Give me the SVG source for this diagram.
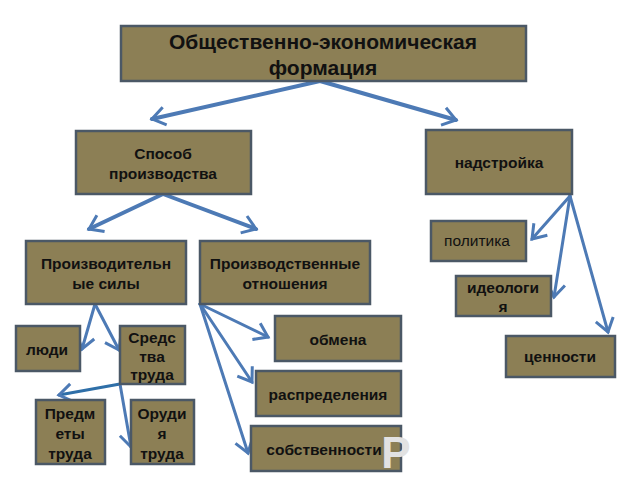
<svg xmlns="http://www.w3.org/2000/svg" width="640" height="480" viewBox="0 0 640 480">
<style>
.box{fill:#8c7f55;stroke:#4b5866;stroke-width:2.5}
text{font-family:"Liberation Sans",Arial,sans-serif;font-weight:bold;font-size:15.5px;fill:#111;text-anchor:middle}
.big{font-size:21px}
.norm{font-weight:normal}
.c{fill:none;stroke:#4d7ab5;stroke-width:4;stroke-linecap:round}
.t{stroke-width:3}
</style>
<defs>
<marker id="ah" markerUnits="userSpaceOnUse" markerWidth="22" markerHeight="22" refX="15" refY="11" orient="auto">
<path d="M2,2 L15,11 L2,20" fill="none" stroke="#4d7ab5" stroke-width="3"/>
</marker>
</defs>
<rect width="640" height="480" fill="#fff"/>
<g id="connectors">
<path class="c" d="M320,81 L152,119" marker-end="url(#ah)"/>
<path class="c" d="M320,81 L456,120" marker-end="url(#ah)"/>
<path class="c" d="M163,194 L89,229" marker-end="url(#ah)"/>
<path class="c" d="M163,194 L256,229" marker-end="url(#ah)"/>
<path class="c t" d="M570,196 L532,239" marker-end="url(#ah)"/>
<path class="c t" d="M570,196 L554,297" marker-end="url(#ah)"/>
<path class="c t" d="M570,196 L608,332" marker-end="url(#ah)"/>
<path class="c t" d="M95,304 L82,349" marker-end="url(#ah)"/>
<path class="c t" d="M95,304 L119,350" marker-end="url(#ah)"/>
<path class="c t" d="M120,384 L59,395" marker-end="url(#ah)" style="stroke:#2f6fa8"/>
<path class="c t" d="M120,384 L131,447" marker-end="url(#ah)"/>
<path class="c t" d="M200,304 L268,337" marker-end="url(#ah)"/>
<path class="c t" d="M200,304 L252,382" marker-end="url(#ah)"/>
<path class="c t" d="M200,304 L248,453" marker-end="url(#ah)"/>
</g>
<g id="n-formation"><rect class="box" x="121" y="26" width="405" height="55"/>
<text class="big" x="323" y="49">Общественно-экономическая</text><text class="big" x="323" y="75">формация</text></g>
<g id="n-sposob"><rect class="box" x="76" y="131" width="175" height="63"/>
<text x="163" y="159">Способ</text><text x="163" y="179">производства</text></g>
<g id="n-nadstroyka"><rect class="box" x="426" y="130" width="146" height="64"/>
<text x="499" y="168">надстройка</text></g>
<g id="n-sily"><rect class="box" x="26" y="241" width="160" height="63"/>
<text x="106" y="269">Производительн</text><text x="106" y="289">ые силы</text></g>
<g id="n-otnosheniya"><rect class="box" x="200" y="241" width="170" height="63"/>
<text x="285" y="269">Производственные</text><text x="285" y="289">отношения</text></g>
<g id="n-politika"><rect class="box" x="431" y="221" width="95" height="40"/>
<text class="norm" x="477" y="246">политика</text></g>
<g id="n-ideologiya"><rect class="box" x="456" y="276" width="95" height="40"/>
<text x="503" y="293">идеологи</text><text x="503" y="312">я</text></g>
<g id="n-tsennosti"><rect class="box" x="506" y="336" width="109" height="41"/>
<text x="560" y="362">ценности</text></g>
<g id="n-lyudi"><rect class="box" x="16" y="326" width="64" height="45"/>
<text x="47" y="355">люди</text></g>
<g id="n-sredstva"><rect class="box" x="120" y="326" width="65" height="58"/>
<text x="152" y="343">Средс</text><text x="152" y="362">тва</text><text x="152" y="380">труда</text></g>
<g id="n-predmety"><rect class="box" x="36" y="400" width="69" height="64"/>
<text x="70" y="419">Предм</text><text x="70" y="439">еты</text><text x="70" y="459">труда</text></g>
<g id="n-orudiya"><rect class="box" x="131" y="400" width="63" height="64"/>
<text x="162" y="419">Оруди</text><text x="162" y="439">я</text><text x="162" y="459">труда</text></g>
<g id="n-obmena"><rect class="box" x="275" y="316" width="126" height="45"/>
<text x="338" y="345">обмена</text></g>
<g id="n-raspredeleniya"><rect class="box" x="256" y="371" width="145" height="45"/>
<text x="328" y="400">распределения</text></g>
<g id="n-sobstvennosti"><rect class="box" x="251" y="426" width="150" height="45"/>
<text x="324" y="455">собственности</text>
<text x="396" y="468" style="font-size:44px;fill:#e2e2e2">Р</text></g>
</svg>
